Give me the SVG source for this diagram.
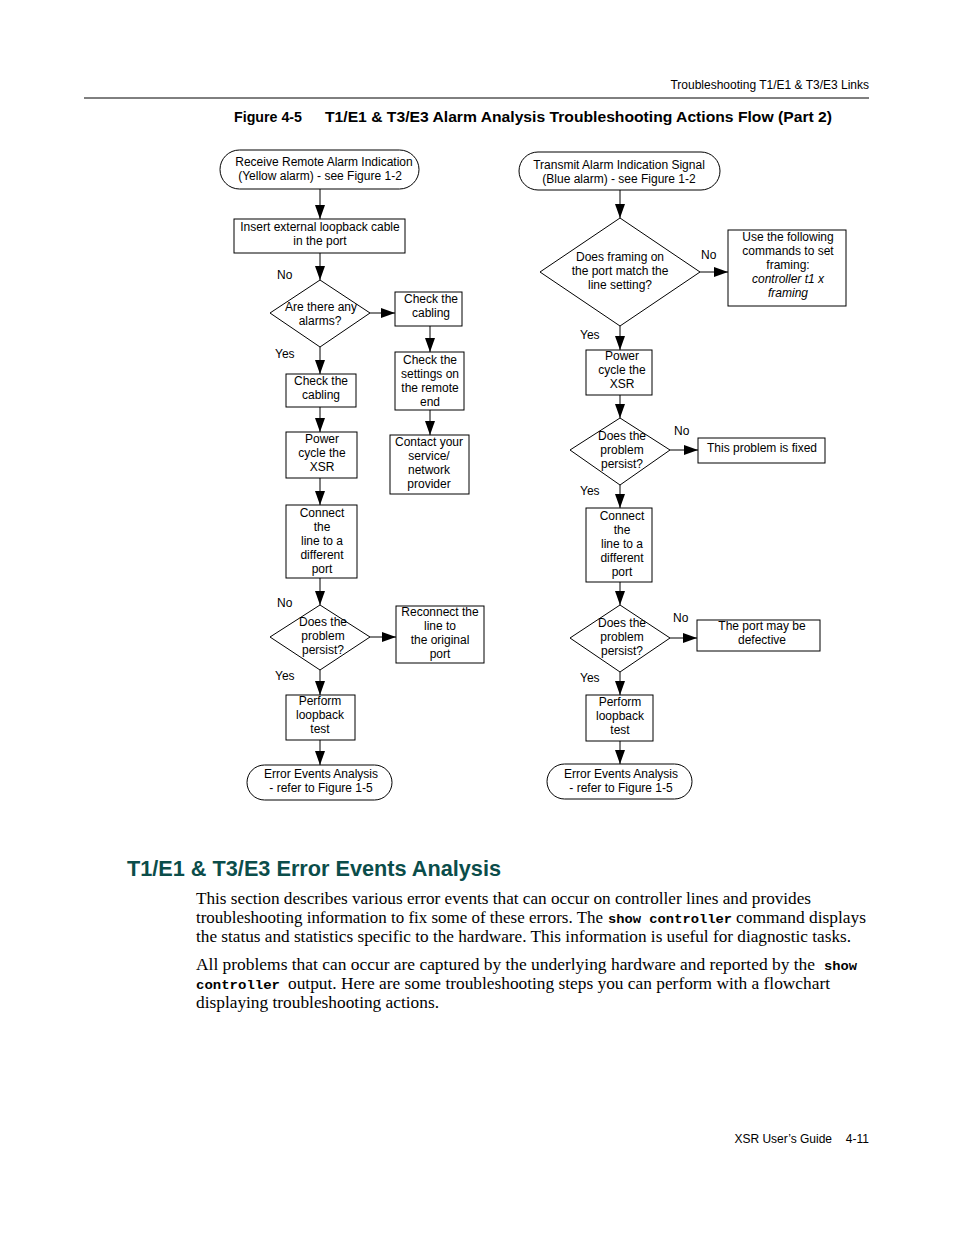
<svg xmlns="http://www.w3.org/2000/svg" width="954" height="1235" viewBox="0 0 954 1235">
<style>
.s{fill:#fff;stroke:#000;stroke-width:1}
.t{font-family:"Liberation Sans",Arial,sans-serif;font-size:12px;fill:#000;text-anchor:middle}
.l{font-family:"Liberation Sans",Arial,sans-serif;font-size:12px;fill:#000}
.c{stroke:#000;stroke-width:1;fill:none;marker-end:url(#ah)}
.b{font-family:"Liberation Serif","Times New Roman",serif;font-size:16px;fill:#000}
.m{font-family:"Liberation Mono","Courier New",monospace;font-size:13.5px;font-weight:bold;fill:#000}
</style>
<defs>
<marker id="ah" markerWidth="14" markerHeight="10" refX="14" refY="5" orient="auto" markerUnits="userSpaceOnUse"><path d="M0,0 L14,5 L0,10 z" fill="#000"/></marker>
</defs>
<rect width="954" height="1235" fill="#fff"/>
<text class="l" x="869" y="89" text-anchor="end">Troubleshooting T1/E1 &amp; T3/E3 Links</text>
<line x1="84" y1="98" x2="869" y2="98" stroke="#000" stroke-width="1"/>
<text x="234" y="122" font-family="Liberation Sans,Arial,sans-serif" font-size="15" font-weight="bold" textLength="68" lengthAdjust="spacingAndGlyphs">Figure 4-5</text>
<text x="325" y="122" font-family="Liberation Sans,Arial,sans-serif" font-size="15" font-weight="bold" textLength="507" lengthAdjust="spacingAndGlyphs">T1/E1 &amp; T3/E3 Alarm Analysis Troubleshooting Actions Flow (Part 2)</text>

<g id="connectors">
<line class="c" x1="320" y1="189" x2="320" y2="219"/>
<line class="c" x1="320" y1="253" x2="320" y2="280"/>
<line class="c" x1="370" y1="313" x2="395" y2="313"/>
<line class="c" x1="430" y1="326" x2="430" y2="352"/>
<line class="c" x1="430" y1="410" x2="430" y2="435"/>
<line class="c" x1="320" y1="347" x2="320" y2="374"/>
<line class="c" x1="320" y1="407" x2="320" y2="432"/>
<line class="c" x1="320" y1="478" x2="320" y2="505"/>
<line class="c" x1="320" y1="578" x2="320" y2="605"/>
<line class="c" x1="370" y1="637" x2="396" y2="637"/>
<line class="c" x1="320" y1="670" x2="320" y2="695"/>
<line class="c" x1="320" y1="740" x2="320" y2="765"/>
<line class="c" x1="620" y1="190" x2="620" y2="218"/>
<line class="c" x1="700" y1="272" x2="728" y2="272"/>
<line class="c" x1="620" y1="326" x2="620" y2="350"/>
<line class="c" x1="620" y1="395" x2="620" y2="418"/>
<line class="c" x1="670" y1="450" x2="698" y2="450"/>
<line class="c" x1="620" y1="485" x2="620" y2="508"/>
<line class="c" x1="620" y1="582" x2="620" y2="605"/>
<line class="c" x1="670" y1="638" x2="697" y2="638"/>
<line class="c" x1="620" y1="672" x2="620" y2="695"/>
<line class="c" x1="620" y1="741" x2="620" y2="764"/>
<text class="l" x="277" y="279">No</text>
<text class="l" x="275" y="358">Yes</text>
<text class="l" x="277" y="607">No</text>
<text class="l" x="275" y="680">Yes</text>
<text class="l" x="701" y="259">No</text>
<text class="l" x="580" y="339">Yes</text>
<text class="l" x="674" y="435">No</text>
<text class="l" x="580" y="495">Yes</text>
<text class="l" x="673" y="622">No</text>
<text class="l" x="580" y="682">Yes</text>
</g>

<g id="n_start_left"><rect class="s" x="220" y="150" width="199" height="39" rx="19.5"/><text class="t" x="324" y="166">Receive Remote Alarm Indication</text><text class="t" x="320" y="180">(Yellow alarm) - see Figure 1-2</text></g>
<g id="n_insert"><rect class="s" x="234" y="219" width="171" height="34"/><text class="t" x="320" y="231">Insert external loopback cable</text><text class="t" x="320" y="245">in the port</text></g>
<g id="n_alarms"><polygon class="s" points="320,280 370,313 320,347 270,313"/><text class="t" x="321" y="311">Are there any</text><text class="t" x="320" y="325">alarms?</text></g>
<g id="n_check_cabling_r"><rect class="s" x="395" y="292" width="67" height="34"/><text class="t" x="431" y="303">Check the</text><text class="t" x="431" y="317">cabling</text></g>
<g id="n_check_settings"><rect class="s" x="395" y="352" width="69" height="58"/><text class="t" x="430" y="364">Check the</text><text class="t" x="430" y="378">settings on</text><text class="t" x="430" y="392">the remote</text><text class="t" x="430" y="406">end</text></g>
<g id="n_contact"><rect class="s" x="390" y="435" width="79" height="59"/><text class="t" x="429" y="446">Contact your</text><text class="t" x="429" y="460">service/</text><text class="t" x="429" y="474">network</text><text class="t" x="429" y="488">provider</text></g>
<g id="n_check_cabling_l"><rect class="s" x="286" y="374" width="70" height="33"/><text class="t" x="321" y="385">Check the</text><text class="t" x="321" y="399">cabling</text></g>
<g id="n_power_l"><rect class="s" x="286" y="432" width="71" height="46"/><text class="t" x="322" y="443">Power</text><text class="t" x="322" y="457">cycle the</text><text class="t" x="322" y="471">XSR</text></g>
<g id="n_connect_l"><rect class="s" x="286" y="505" width="71" height="73"/><text class="t" x="322" y="517">Connect</text><text class="t" x="322" y="531">the</text><text class="t" x="322" y="545">line to a</text><text class="t" x="322" y="559">different</text><text class="t" x="322" y="573">port</text></g>
<g id="n_persist_l"><polygon class="s" points="320,605 370,637 320,670 270,637"/><text class="t" x="323" y="626">Does the</text><text class="t" x="323" y="640">problem</text><text class="t" x="323" y="654">persist?</text></g>
<g id="n_reconnect"><rect class="s" x="396" y="606" width="88" height="57"/><text class="t" x="440" y="616">Reconnect the</text><text class="t" x="440" y="630">line to</text><text class="t" x="440" y="644">the original</text><text class="t" x="440" y="658">port</text></g>
<g id="n_loop_l"><rect class="s" x="286" y="695" width="69" height="45"/><text class="t" x="320" y="705">Perform</text><text class="t" x="320" y="719">loopback</text><text class="t" x="320" y="733">test</text></g>
<g id="n_end_l"><rect class="s" x="247" y="765" width="145" height="35" rx="17.5"/><text class="t" x="321" y="778">Error Events Analysis</text><text class="t" x="321" y="792">- refer to Figure 1-5</text></g>

<g id="n_start_right"><rect class="s" x="519" y="152" width="201" height="38" rx="19"/><text class="t" x="619" y="169">Transmit Alarm Indication Signal</text><text class="t" x="619" y="183">(Blue alarm) - see Figure 1-2</text></g>
<g id="n_framing"><polygon class="s" points="620,218 700,272 620,326 540,272"/><text class="t" x="620" y="261">Does framing on</text><text class="t" x="620" y="275">the port match the</text><text class="t" x="620" y="289">line setting?</text></g>
<g id="n_use"><rect class="s" x="728" y="230" width="118" height="76"/><text class="t" x="788" y="241">Use the following</text><text class="t" x="788" y="255">commands to set</text><text class="t" x="788" y="269">framing:</text><text class="t" x="788" y="283" font-style="italic">controller t1 x</text><text class="t" x="788" y="297" font-style="italic">framing</text></g>
<g id="n_power_r"><rect class="s" x="586" y="350" width="66" height="45"/><text class="t" x="622" y="360">Power</text><text class="t" x="622" y="374">cycle the</text><text class="t" x="622" y="388">XSR</text></g>
<g id="n_persist_r1"><polygon class="s" points="620,418 670,450 620,485 570,450"/><text class="t" x="622" y="440">Does the</text><text class="t" x="622" y="454">problem</text><text class="t" x="622" y="468">persist?</text></g>
<g id="n_fixed"><rect class="s" x="698" y="438" width="127" height="25"/><text class="t" x="762" y="452">This problem is fixed</text></g>
<g id="n_connect_r"><rect class="s" x="586" y="508" width="66" height="74"/><text class="t" x="622" y="520">Connect</text><text class="t" x="622" y="534">the</text><text class="t" x="622" y="548">line to a</text><text class="t" x="622" y="562">different</text><text class="t" x="622" y="576">port</text></g>
<g id="n_persist_r2"><polygon class="s" points="620,605 670,638 620,672 570,638"/><text class="t" x="622" y="627">Does the</text><text class="t" x="622" y="641">problem</text><text class="t" x="622" y="655">persist?</text></g>
<g id="n_defective"><rect class="s" x="697" y="620" width="123" height="31"/><text class="t" x="762" y="630">The port may be</text><text class="t" x="762" y="644">defective</text></g>
<g id="n_loop_r"><rect class="s" x="586" y="695" width="67" height="46"/><text class="t" x="620" y="706">Perform</text><text class="t" x="620" y="720">loopback</text><text class="t" x="620" y="734">test</text></g>
<g id="n_end_r"><rect class="s" x="547" y="764" width="145" height="35" rx="17.5"/><text class="t" x="621" y="778">Error Events Analysis</text><text class="t" x="621" y="792">- refer to Figure 1-5</text></g>

<text x="127" y="876" font-family="Liberation Sans,Arial,sans-serif" font-size="22" font-weight="bold" fill="#0b4d4a" textLength="374" lengthAdjust="spacingAndGlyphs">T1/E1 &amp; T3/E3 Error Events Analysis</text>
<text class="b" x="196" y="904" textLength="615" lengthAdjust="spacingAndGlyphs">This section describes various error events that can occur on controller lines and provides</text>
<text class="b" x="196" y="923" textLength="407" lengthAdjust="spacingAndGlyphs">troubleshooting information to fix some of these errors. The</text>
<text class="m" x="608" y="923" textLength="124" lengthAdjust="spacingAndGlyphs">show controller</text>
<text class="b" x="736" y="923" textLength="130" lengthAdjust="spacingAndGlyphs">command displays</text>
<text class="b" x="196" y="942" textLength="655" lengthAdjust="spacingAndGlyphs">the status and statistics specific to the hardware. This information is useful for diagnostic tasks.</text>
<text class="b" x="196" y="970" textLength="619" lengthAdjust="spacingAndGlyphs">All problems that can occur are captured by the underlying hardware and reported by the</text>
<text class="m" x="824" y="970" textLength="33" lengthAdjust="spacingAndGlyphs">show</text>
<text class="m" x="196" y="989" textLength="84" lengthAdjust="spacingAndGlyphs">controller</text>
<text class="b" x="288" y="989" textLength="542" lengthAdjust="spacingAndGlyphs">output. Here are some troubleshooting steps you can perform with a flowchart</text>
<text class="b" x="196" y="1008" textLength="243" lengthAdjust="spacingAndGlyphs">displaying troubleshooting actions.</text>
<text class="l" x="832" y="1143" text-anchor="end">XSR User’s Guide</text>
<text class="l" x="869" y="1143" text-anchor="end">4-11</text>
</svg>
